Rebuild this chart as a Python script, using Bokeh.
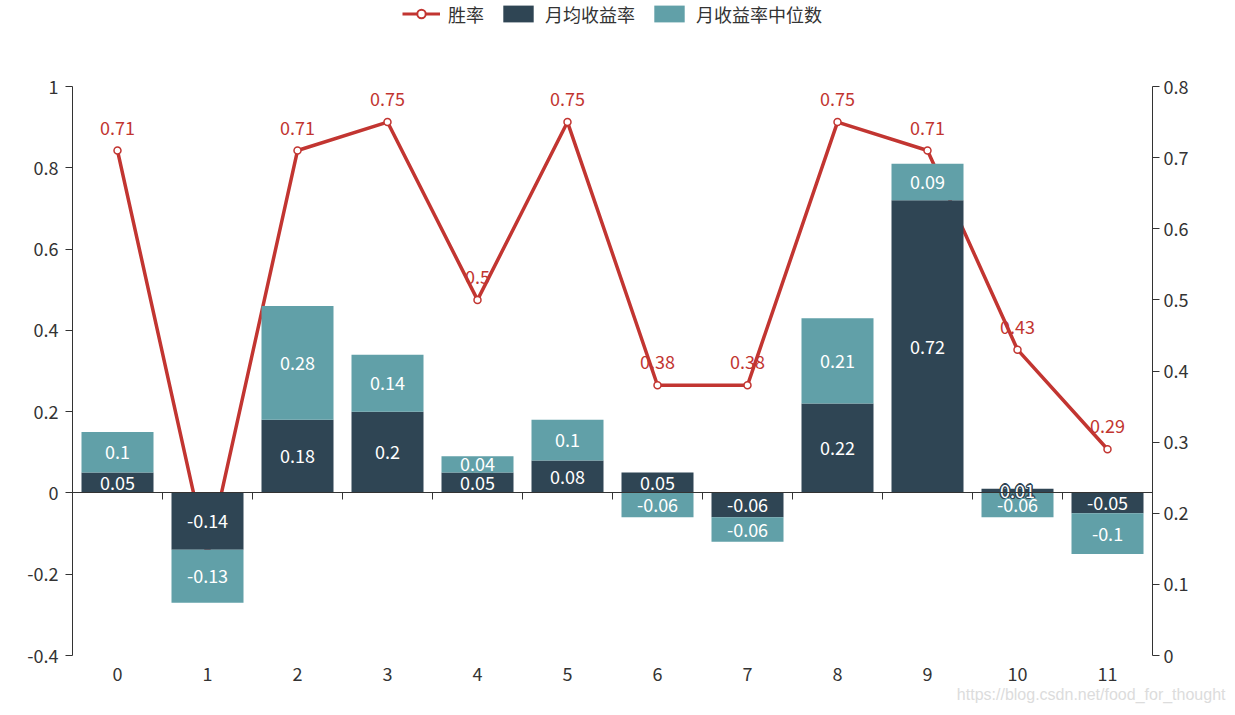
from bokeh.plotting import figure
from bokeh.layouts import column
from bokeh.models import (Range1d, LinearAxis, FixedTicker, ColumnDataSource, Legend,
                          LegendItem, Title, NumeralTickFormatter)
from bokeh.core.properties import value
from bokeh.embed import file_html
from bokeh.resources import INLINE

# ---- data ----
categories = ["0", "1", "2", "3", "4", "5", "6", "7", "8", "9", "10", "11"]
avg_return = [0.05, -0.14, 0.18, 0.2, 0.05, 0.08, 0.05, -0.06, 0.22, 0.72, 0.01, -0.05]
median_return = [0.1, -0.13, 0.28, 0.14, 0.04, 0.1, -0.06, -0.06, 0.21, 0.09, -0.06, -0.1]
win_rate = [0.71, 0.14, 0.71, 0.75, 0.5, 0.75, 0.38, 0.38, 0.75, 0.71, 0.43, 0.29]
left_ticks = [-0.4, -0.2, 0, 0.2, 0.4, 0.6, 0.8, 1]
right_ticks = [0, 0.1, 0.2, 0.3, 0.4, 0.5, 0.6, 0.7, 0.8]
series_names = ["胜率", "月均收益率", "月收益率中位数"]
watermark = "https://blog.csdn.net/food_for_thought"

# ---- styles ----
RED = "#c23531"
DARK = "#2f4554"
TEAL = "#61a0a8"
AXIS = "#333333"
FONT_NAME = "Noto Sans CJK SC"
FONT = value(FONT_NAME)
FS = "18px"

n = len(categories)
xs = list(range(n))

# stacking (positive and negative stacked separately)
dark_bottom = [0.0] * n
dark_top = list(avg_return)
teal_bottom = []
for a, m in zip(avg_return, median_return):
    teal_bottom.append(a if (a >= 0) == (m >= 0) else 0.0)
teal_top = [b + m for b, m in zip(teal_bottom, median_return)]

def fmt(v):
    return f"{v:g}"

src_dark = ColumnDataSource(dict(
    x=xs, bottom=dark_bottom, top=dark_top,
    mid=[(b + t) / 2 for b, t in zip(dark_bottom, dark_top)],
    label=[fmt(v) for v in avg_return]))
src_teal = ColumnDataSource(dict(
    x=xs, bottom=teal_bottom, top=teal_top,
    mid=[(b + t) / 2 for b, t in zip(teal_bottom, teal_top)],
    label=[fmt(v) for v in median_return]))
src_line = ColumnDataSource(dict(x=xs, y=win_rate, label=[fmt(v) for v in win_rate]))

W = 1227
LEG_H = 27
H = 707 - LEG_H

# ---------------- legend strip ----------------
lf = figure(width=W, height=LEG_H, output_backend="svg", toolbar_location=None,
            x_axis_type=None, y_axis_type=None,
            min_border_left=0, min_border_right=0, min_border_top=0, min_border_bottom=0)
lf.outline_line_color = None
lf.grid.visible = False
lf_line = lf.line(x="x", y="y", source=src_line, line_color=RED, line_width=3, visible=False)
lf_mark = lf.scatter(x="x", y="y", source=src_line, size=13, marker="circle",
                     fill_color="white", line_color=RED, line_width=2, visible=False)
lf_dark = lf.vbar(x="x", bottom="bottom", top="top", width=0.8, source=src_dark,
                  fill_color=DARK, line_color=None, visible=False)
lf_teal = lf.vbar(x="x", bottom="bottom", top="top", width=0.8, source=src_teal,
                  fill_color=TEAL, line_color=None, visible=False)
legend = Legend(items=[
    LegendItem(label=series_names[0], renderers=[lf_line, lf_mark], index=0),
    LegendItem(label=series_names[1], renderers=[lf_dark], index=0),
    LegendItem(label=series_names[2], renderers=[lf_teal], index=0),
], orientation="horizontal", location="center")
legend.glyph_width = 38
legend.glyph_height = 21
legend.label_standoff = 8
legend.spacing = 15
legend.padding = 0
legend.margin = 0
legend.border_line_color = None
legend.background_fill_alpha = 0
legend.label_text_font = FONT_NAME
legend.label_text_font_size = FS
legend.label_text_color = AXIS
legend.label_height = 21
lf.add_layout(legend, "center")

# ---------------- main chart ----------------
p = figure(width=W, height=H, output_backend="svg", toolbar_location=None,
           x_range=Range1d(-0.5, n - 0.5), y_range=Range1d(left_ticks[0], left_ticks[-1]),
           min_border_left=72, min_border_right=75, min_border_top=86 - LEG_H,
           min_border_bottom=52)
p.outline_line_color = None
p.grid.visible = False
p.background_fill_color = "white"
p.border_fill_color = "white"

p.extra_y_ranges = {"r": Range1d(right_ticks[0], right_ticks[-1])}

xa = p.xaxis[0]
xa.ticker = FixedTicker(ticks=xs)
xa.major_label_overrides = {i: c for i, c in enumerate(categories)}
xa.axis_line_color = None
xa.major_tick_line_color = None
xa.minor_tick_line_color = None
xa.major_tick_out = 0
xa.major_tick_in = 0
xa.major_label_standoff = 11
xa.major_label_text_font = FONT_NAME
xa.major_label_text_font_size = FS
xa.major_label_text_color = AXIS

ya = p.yaxis[0]
ya.ticker = FixedTicker(ticks=left_ticks)
ya.formatter = NumeralTickFormatter(format="0.[0]")
ya.axis_line_color = AXIS
ya.major_tick_line_color = AXIS
ya.minor_tick_line_color = None
ya.major_tick_out = 7
ya.major_tick_in = 0
ya.major_label_standoff = 7
ya.major_label_text_font = FONT_NAME
ya.major_label_text_font_size = FS
ya.major_label_text_color = AXIS

ra = LinearAxis(y_range_name="r", ticker=FixedTicker(ticks=right_ticks),
                formatter=NumeralTickFormatter(format="0.[0]"))
ra.axis_line_color = AXIS
ra.major_tick_line_color = AXIS
ra.minor_tick_line_color = None
ra.major_tick_out = 7
ra.major_tick_in = 0
ra.major_label_standoff = 4
ra.major_label_text_font = FONT_NAME
ra.major_label_text_font_size = FS
ra.major_label_text_color = AXIS
p.add_layout(ra, "right")

# category axis line at zero, ticks on category boundaries
za = LinearAxis(fixed_location=0, ticker=FixedTicker(ticks=[i - 0.5 for i in range(n + 1)]))
za.axis_line_color = AXIS
za.major_tick_line_color = AXIS
za.minor_tick_line_color = None
za.major_tick_in = 7
za.major_tick_out = 0
za.major_label_text_font_size = "0px"
za.major_label_text_color = None
p.add_layout(za, "above")

# line series (drawn below bars)
p.text(x="x", y="y", text="label", source=src_line, y_range_name="r",
       text_font=FONT, text_font_size=FS, text_color=RED,
       text_align="center", text_baseline="bottom", y_offset=-16)
p.line(x="x", y="y", source=src_line, y_range_name="r", line_color=RED, line_width=3.5)
p.scatter(x="x", y="y", source=src_line, y_range_name="r", size=7,
          marker="circle", fill_color="white", line_color=RED, line_width=1.5)

# bars
p.vbar(x="x", bottom="bottom", top="top", width=0.8, source=src_dark,
       fill_color=DARK, line_color=None)
p.vbar(x="x", bottom="bottom", top="top", width=0.8, source=src_teal,
       fill_color=TEAL, line_color=None)

# bar labels: white text with a stroke in the bar colour
offsets = [(-1.5, 0), (1.5, 0), (0, -1.5), (0, 1.5), (-1, -1), (1, 1), (-1, 1), (1, -1)]
for src, col in ((src_dark, DARK), (src_teal, TEAL)):
    for dx, dy in offsets:
        p.text(x="x", y="mid", text="label", source=src, text_font=FONT, text_font_size=FS,
               text_color=col, text_align="center", text_baseline="middle",
               x_offset=dx, y_offset=dy)
    p.text(x="x", y="mid", text="label", source=src, text_font=FONT, text_font_size=FS,
           text_color="white", text_align="center", text_baseline="middle")

# watermark
wm = Title(text=watermark, align="right", offset=-73, standoff=0,
           text_font="Liberation Sans", text_font_size="16px", text_color="#dcdcdc",
           text_font_style="normal", text_line_height=1.0)
p.add_layout(wm, "below")

layout = column(lf, p, spacing=0)
open("out.html", "w").write(file_html(layout, INLINE))
